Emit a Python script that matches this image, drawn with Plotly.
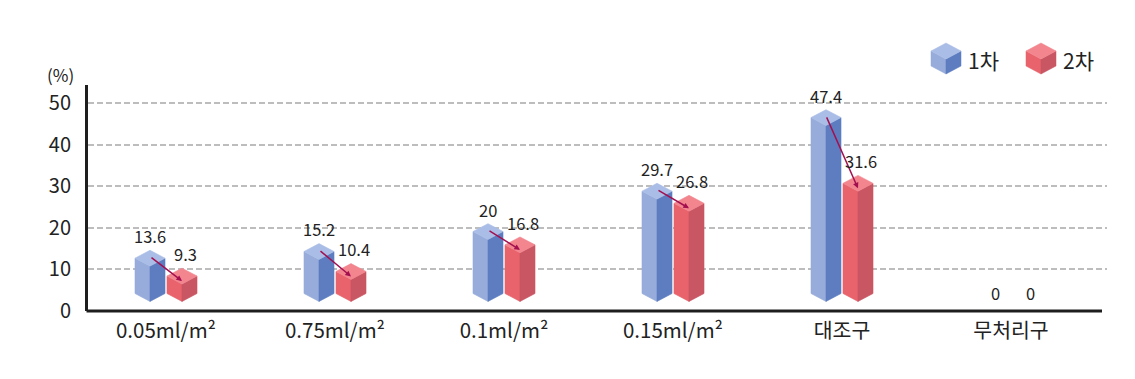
import plotly.graph_objects as go

categories = ["0.05ml/m²", "0.75ml/m²", "0.1ml/m²", "0.15ml/m²", "대조구", "무처리구"]
series1 = [13.6, 15.2, 20, 29.7, 47.4, 0]
series2 = [9.3, 10.4, 16.8, 26.8, 31.6, 0]
label1 = ["13.6", "15.2", "20", "29.7", "47.4", "0"]
label2 = ["9.3", "10.4", "16.8", "26.8", "31.6", "0"]
y_ticks = [0, 10, 20, 30, 40, 50]

FONT = "Noto Sans CJK KR, Noto Sans, sans-serif"
BLUE = {"left": "#97acda", "right": "#5d7dc0", "top": "#aabde6"}
RED = {"left": "#e8636b", "right": "#c95663", "top": "#f2858e"}
ARROW = "#a3104f"

# geometry (style constants)
PX_X = 169.0          # pixels per category
PX_Y = 4.16           # pixels per unit
OFF = 16 / PX_X       # bar offset from category centre
HW = 15 / PX_X        # half width of a prism
DH = 7.9 / PX_Y       # half height of top rhombus
BASE = 4.2            # base rhombus centre (data units)
TOP_SHIFT = -0.9      # top face centre relative to value

fig = go.Figure()


def prism(xc, v, col):
    tc = v + TOP_SHIFT
    left = ([xc - HW, xc, xc, xc - HW, xc - HW], [tc, tc - DH, BASE - DH, BASE, tc])
    right = ([xc, xc + HW, xc + HW, xc, xc], [tc - DH, tc, BASE, BASE - DH, tc - DH])
    top = ([xc - HW, xc, xc + HW, xc, xc - HW], [tc, tc + DH, tc, tc - DH, tc])
    for (xs, ys), c in ((left, col["left"]), (right, col["right"]), (top, col["top"])):
        fig.add_trace(go.Scatter(x=xs, y=ys, fill="toself", fillcolor=c, mode="lines",
                                 line=dict(color=c, width=0.6), hoverinfo="skip",
                                 showlegend=False))


annotations = []
for i, (a, b) in enumerate(zip(series1, series2)):
    xb, xr = i - OFF, i + OFF
    if a > 0:
        prism(xb, a, BLUE)
    if b > 0:
        prism(xr, b, RED)
    if a > 0 and b > 0:
        annotations.append(dict(x=xr, y=b + TOP_SHIFT - 1.2, ax=xb, ay=a + TOP_SHIFT + 0.4,
                                xref="x", yref="y", axref="x", ayref="y", text="",
                                showarrow=True, arrowhead=2, arrowsize=0.75, arrowwidth=1.5,
                                arrowcolor=ARROW, standoff=0, startstandoff=0))
    annotations.append(dict(x=xb, y=a + 4.4, xref="x", yref="y", text=label1[i],
                            showarrow=False, xanchor="center", yanchor="middle",
                            font=dict(family=FONT, size=16.5, color="#222")))
    annotations.append(dict(x=xr + 0.02, y=b + 4.4, xref="x", yref="y", text=label2[i],
                            showarrow=False, xanchor="center", yanchor="middle",
                            font=dict(family=FONT, size=16.5, color="#222")))

# page offset (body margin) and plot-area pixel box in screenshot coordinates
PAGE = 8
L, R, T, B = 88, 1107, 85, 311


def px(x):
    return (x - L) / (R - L)


def py(y):
    return (B - y) / (B - T)


annotations.append(dict(x=px(60), y=py(74), xref="paper", yref="paper", text="(%)",
                        xanchor="center", yanchor="middle", showarrow=False,
                        font=dict(family=FONT, size=17, color="#222")))

shapes = [
    dict(type="line", xref="paper", yref="paper", x0=px(86.5), x1=px(1102), y0=0, y1=0,
         line=dict(color="#1e1e1e", width=3), layer="above"),
]


def cube(x0, col):
    # legend cube icon (pixel based)
    pts_left = [(x0, 51), (x0 + 15, 59), (x0 + 15, 74), (x0, 66)]
    pts_right = [(x0 + 15, 59), (x0 + 30, 51), (x0 + 30, 66), (x0 + 15, 74)]
    pts_top = [(x0, 51), (x0 + 15, 43), (x0 + 30, 51), (x0 + 15, 59)]
    out = []
    for pts, c in ((pts_left, col["left"]), (pts_right, col["right"]), (pts_top, col["top"])):
        path = "M " + " L ".join(f"{px(a):.5f},{py(b):.5f}" for a, b in pts) + " Z"
        out.append(dict(type="path", xref="paper", yref="paper", path=path,
                        fillcolor=c, line=dict(color=c, width=0.5), layer="above"))
    return out


shapes += cube(931, BLUE) + cube(1026, RED)
annotations.append(dict(x=px(966), y=py(60), xref="paper", yref="paper", text="1차",
                        xanchor="left", yanchor="middle", showarrow=False,
                        font=dict(family=FONT, size=21, color="#222")))
annotations.append(dict(x=px(1061), y=py(60), xref="paper", yref="paper", text="2차",
                        xanchor="left", yanchor="middle", showarrow=False,
                        font=dict(family=FONT, size=21, color="#222")))

x0 = -(166 - L) / PX_X
x1 = x0 + (R - L) / PX_X
W, H = 1135, 379
fig.update_layout(
    width=W, height=H,
    margin=dict(l=L - PAGE, r=W - (R - PAGE), t=T - PAGE, b=H - (B - PAGE)),
    paper_bgcolor="white", plot_bgcolor="white",
    showlegend=False,
    xaxis=dict(range=[x0, x1], tickmode="array", tickvals=list(range(len(categories))),
               ticktext=categories, showgrid=False, zeroline=False, showline=False,
               ticks="outside", ticklen=1, tickcolor="rgba(0,0,0,0)", automargin=False,
               tickfont=dict(family=FONT, size=20.5, color="#222"), fixedrange=True),
    yaxis=dict(range=[0, (B - T) / PX_Y], tickmode="array", tickvals=y_ticks,
               showgrid=True, gridcolor="#bdbdbd", gridwidth=2, griddash="6px,3px",
               zeroline=False, showline=True, linecolor="#1e1e1e", linewidth=3,
               ticks="outside", ticklen=10, tickcolor="rgba(0,0,0,0)", automargin=False,
               tickfont=dict(family=FONT, size=20, color="#222"), fixedrange=True),
    annotations=annotations,
    shapes=shapes,
)

fig.write_html("out.html")
